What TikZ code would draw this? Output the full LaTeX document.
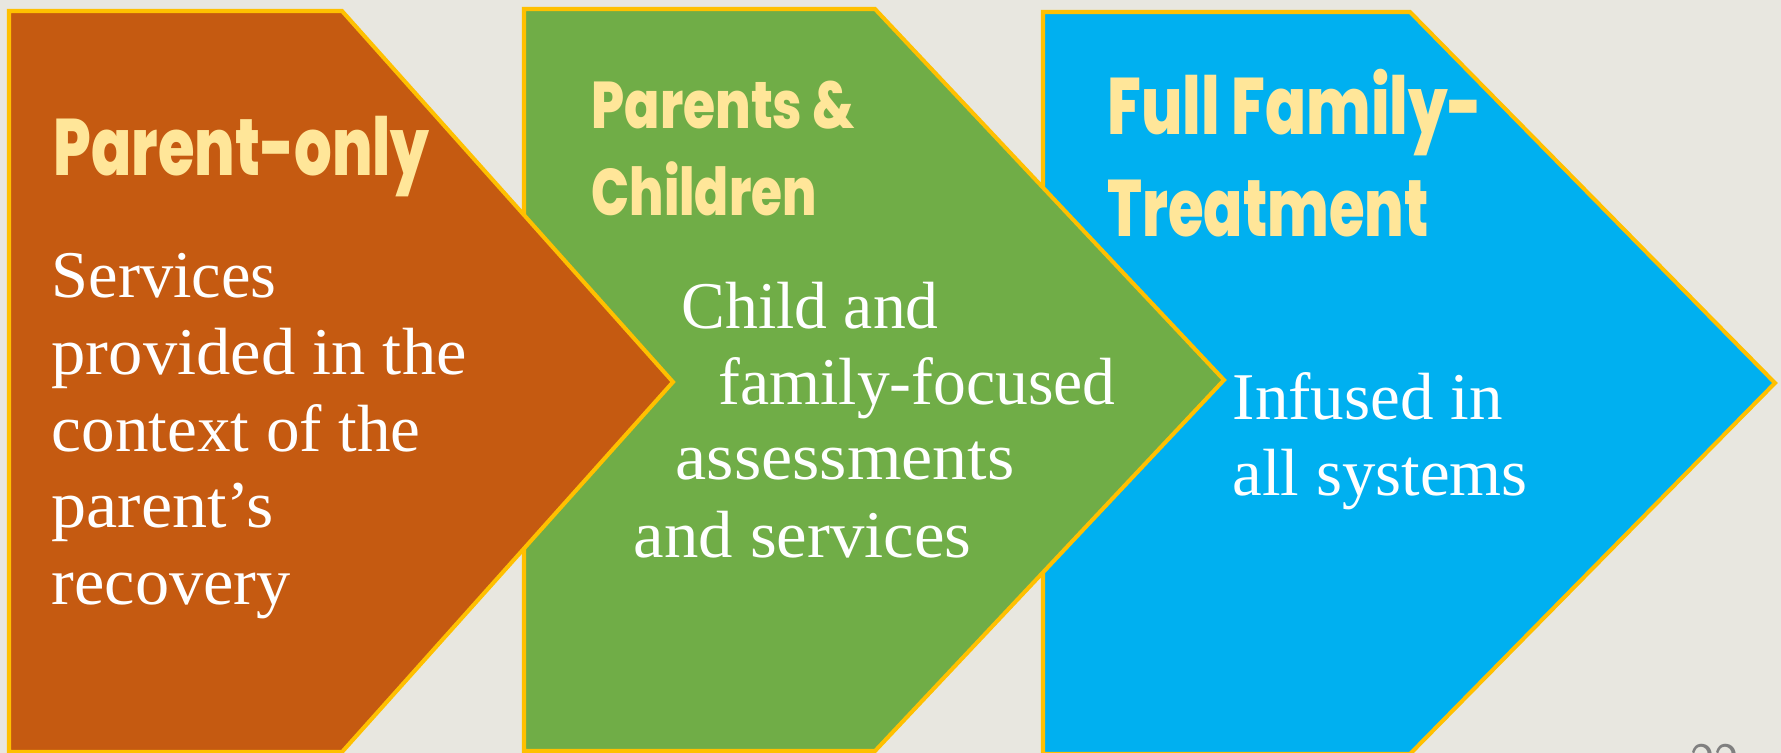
\documentclass[tikz,border=0pt]{standalone}
\usepackage{fontspec}
\usepackage{graphicx}
\setmainfont{Liberation Serif}
\newfontfamily\titlefont{Poppins ExtraBold}
\definecolor{bgc}{HTML}{E8E7E0}
\definecolor{orng}{HTML}{C55A11}
\definecolor{grn}{HTML}{70AD47}
\definecolor{blu}{HTML}{00B0F0}
\definecolor{brd}{HTML}{FFC000}
\definecolor{ttlc}{HTML}{FFE699}
\newlength\fitlen
\newcommand\fitw[2]{\settowidth\fitlen{#2}\pgfmathsetmacro\fitsx{#1*0.28453/\fitlen}\scalebox{\fitsx}[1]{#2}}
\tikzset{
  arrowshape/.style={draw=brd, line width=1.15pt, line join=miter},
  ttlA/.style={anchor=base west, inner sep=0pt, text=ttlc, font=\titlefont\fontsize{22.8pt}{26pt}\selectfont},
  ttlB/.style={anchor=base west, inner sep=0pt, text=ttlc, font=\titlefont\fontsize{18.8pt}{22pt}\selectfont},
  bodytxt/.style={anchor=base west, inner sep=0pt, text=white, font=\fontsize{19pt}{22pt}\selectfont},
  pagenum/.style={anchor=north west, inner sep=0pt, text=gray, font=\sffamily\fontsize{14pt}{16pt}\selectfont}
}
\begin{document}
\begin{tikzpicture}[x=0.28453pt, y=-0.28453pt]
\useasboundingbox (0,0) rectangle (1781,753);
\clip (0,0) rectangle (1781,753);
\fill[bgc] (0,0) rectangle (1781,753);
% shapes, back to front
\filldraw[arrowshape, fill=blu] (1043,12) -- (1410,12) -- (1775,383) -- (1410,754) -- (1043,754) -- cycle;
\filldraw[arrowshape, fill=grn] (524,9) -- (875,9) -- (1224,380) -- (875,751) -- (524,751) -- cycle;
\filldraw[arrowshape, fill=orng] (9,11) -- (342,11) -- (673,382) -- (342,752) -- (9,752) -- cycle;
% orange texts
\node[ttlA] (t1) at (53,176) {\fitw{376}{Parent-only}};
\node[bodytxt] (b11) at (51,298) {\fitw{225}{Services}};
\node[bodytxt] (b12) at (51,375) {\fitw{415}{provided in the}};
\node[bodytxt] (b13) at (51,451) {\fitw{369}{context of the}};
\node[bodytxt] (b14) at (51,528) {\fitw{222}{parent’s}};
\node[bodytxt] (b15) at (51,604) {\fitw{239}{recovery}};
% green texts
\node[ttlB] (t21) at (591,129) {\fitw{263}{Parents \&}};
\node[ttlB] (t22) at (591,216) {\fitw{225}{Children}};
\node[bodytxt] (b21) at (681,329) {\fitw{257}{Child and}};
\node[bodytxt] (b22) at (718,405) {\fitw{397}{family-focused}};
\node[bodytxt] (b23) at (675,480) {\fitw{339}{assessments}};
\node[bodytxt] (b24) at (633,558) {\fitw{338}{and services}};
% blue texts
\node[ttlA] (t31) at (1107,135) {\fitw{375}{Full Family-}};
\node[ttlA] (t32) at (1107,237) {\fitw{321}{Treatment}};
\node[bodytxt] (b31) at (1232,420) {\fitw{270}{Infused in}};
\node[bodytxt] (b32) at (1232,496) {\fitw{295}{all systems}};
% page number (cut off)
\node[pagenum] (pn) at (1690,744) {22};
\end{tikzpicture}
\end{document}
